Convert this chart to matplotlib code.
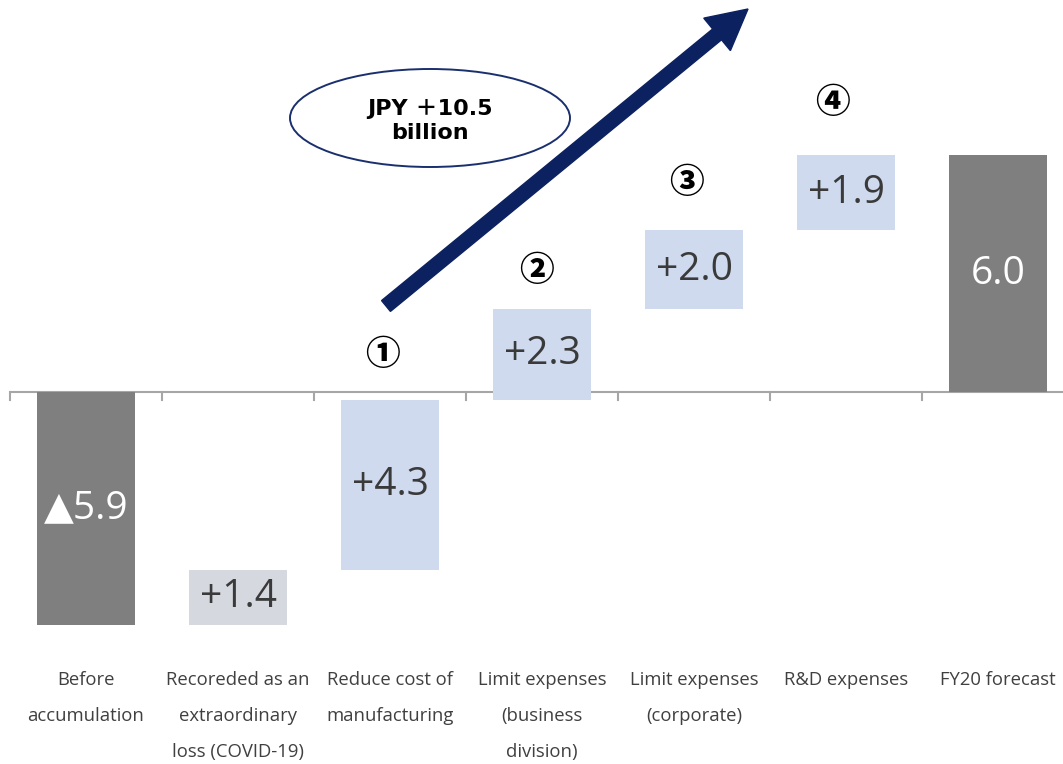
import matplotlib
matplotlib.use("Agg")
import matplotlib.pyplot as plt
from matplotlib.patches import Ellipse, FancyArrow
from matplotlib.transforms import IdentityTransform

categories = ["Before\naccumulation", "Recoreded as an\nextraordinary\nloss (COVID-19)",
              "Reduce cost of\nmanufacturing", "Limit expenses\n(business\ndivision)",
              "Limit expenses\n(corporate)", "R&D expenses", "FY20 forecast"]
changes = [-5.9, 1.4, 4.3, 2.3, 2.0, 1.9, 6.0]
kinds = ["total", "loss", "step", "step", "step", "step", "total"]
value_labels = ["▲5.9", "+1.4", "+4.3", "+2.3", "+2.0", "+1.9", "6.0"]
step_marks = {2: "①", 3: "②", 4: "③", 5: "④"}
callout = "JPY ＋10.5\nbillion"

colors = {"total": "#7f7f7f", "loss": "#d5d9df", "step": "#cfdaef"}
text_colors = {"total": "white", "loss": "#3a3a3a", "step": "#3a3a3a"}

W, H = 1063, 764
fig = plt.figure(figsize=(W / 100, H / 100), dpi=100)
ax = fig.add_axes([0, 0, 1, 1])
px_x = 152.0
px_y = 39.5
x0_px, y0_px = 86.0, 392.0
ax.set_xlim((0 - x0_px) / px_x, (W - x0_px) / px_x)
ax.set_ylim((y0_px - H) / px_y, y0_px / px_y)
ax.axis("off")

# waterfall bottoms/tops
bottoms, heights = [], []
running = 0.0
for c, k in zip(changes, kinds):
    if k == "total":
        running = c
        bottoms.append(min(0, c)); heights.append(abs(c))
    else:
        start = running
        running = start + c
        bottoms.append(min(start, running)); heights.append(abs(c))

xs = list(range(len(categories)))
bw = 98 / px_x
for i in xs:
    ax.bar(i, heights[i], bottom=bottoms[i], width=bw, color=colors[kinds[i]], zorder=2)
    ax.text(i, bottoms[i] + heights[i] / 2, value_labels[i], ha="center", va="center",
            fontsize=28, color=text_colors[kinds[i]], family=["Open Sans", "DejaVu Sans"], zorder=3)

# baseline axis with ticks
ax.plot([-0.5, (W - x0_px) / px_x], [0, 0], color="#a6a6a6", lw=1.5, zorder=1, solid_capstyle="butt")
for i in range(-1, len(categories) - 1):
    ax.plot([i + 0.5, i + 0.5], [0, -0.2], color="#a6a6a6", lw=1.5, zorder=1)

# category labels
for i, lab in enumerate(categories):
    ax.text(i, (y0_px - 671) / px_y, lab, ha="center", va="top", fontsize=13.3,
            color="#404040", linespacing=2.3, family=["Open Sans", "DejaVu Sans"])

# circled numbers
mark_pos = {2: (383, 355), 3: (537, 270), 4: (686, 182), 5: (833, 103)}
for i, m in step_marks.items():
    px, py = mark_pos[i]
    ax.text((px - x0_px) / px_x, (y0_px - py) / px_y, m,
            ha="center", va="center", fontsize=25, fontweight="heavy", color="black",
            family=["Noto Sans CJK JP", "DejaVu Sans"])

# big arrow (display pixels, origin bottom-left)
tail = (386, H - 306)
tip = (748, H - 9)
arr = FancyArrow(tail[0], tail[1], tip[0] - tail[0], tip[1] - tail[1], width=14,
                 head_width=42, head_length=40, length_includes_head=True,
                 transform=IdentityTransform(), color="#0c2160", zorder=5)
fig.add_artist(arr)

# callout ellipse
ell = Ellipse(((430 - x0_px) / px_x, (y0_px - 118) / px_y), 280 / px_x, 98 / px_y,
              facecolor="white", edgecolor="#1a2f6e", lw=1.4, zorder=6)
ax.add_patch(ell)
ax.text((430 - x0_px) / px_x, (y0_px - 121) / px_y, callout, ha="center", va="center",
        fontsize=16, fontweight="bold", color="black", linespacing=1.2,
        family=["DejaVu Sans", "Noto Sans CJK JP"], zorder=7)

fig.savefig("out.png", dpi=100)
